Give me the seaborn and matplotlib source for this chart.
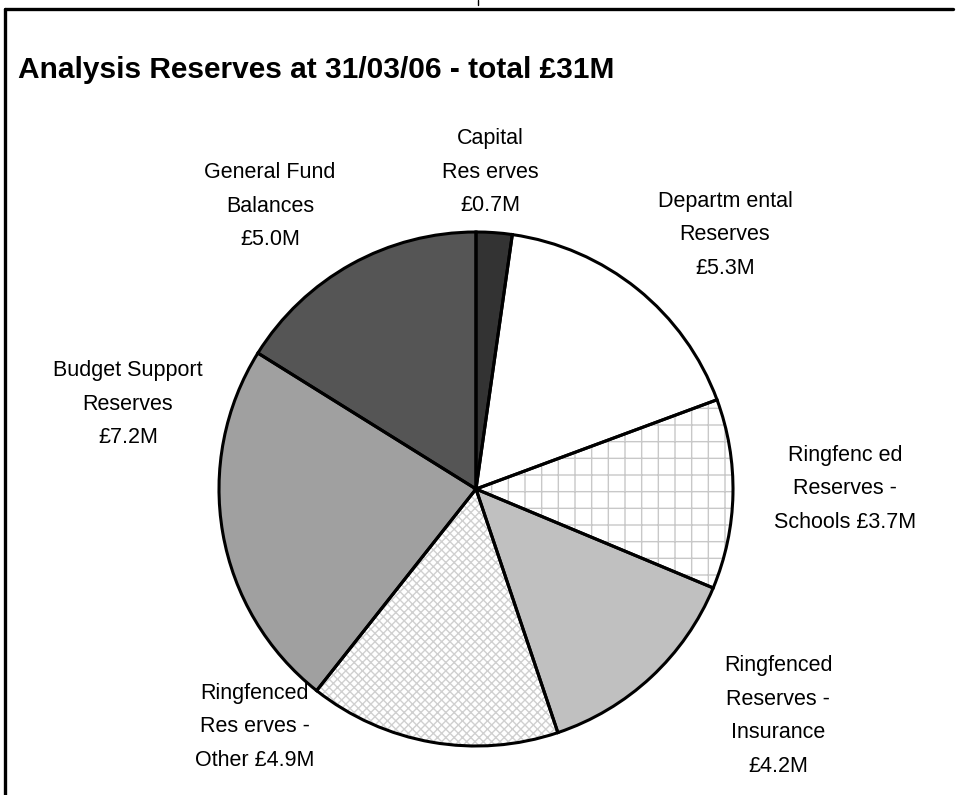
import matplotlib
matplotlib.use("Agg")
import matplotlib.pyplot as plt
import seaborn as sns
from matplotlib.lines import Line2D

# ---- data ----
categories = ["Capital Reserves", "Departmental Reserves", "Ringfenced Reserves - Schools",
              "Ringfenced Reserves - Insurance", "Ringfenced Reserves - Other",
              "Budget Support Reserves", "General Fund Balances"]
values = [0.7, 5.3, 3.7, 4.2, 4.9, 7.2, 5.0]
label_texts = ["Capital\nRes erves\n£0.7M",
               "Departm ental\nReserves\n£5.3M",
               "Ringfenc ed\nReserves -\nSchools £3.7M",
               "Ringfenced\nReserves -\nInsurance\n£4.2M",
               "Ringfenced\nRes erves -\nOther £4.9M",
               "Budget Support\nReserves\n£7.2M",
               "General Fund\nBalances\n£5.0M"]
title = "Analysis Reserves at 31/03/06 - total £31M"

# ---- style ----
face_colors = ["#333333", "#ffffff", "#ffffff", "#c0c0c0", "#ffffff", "#a0a0a0", "#555555"]
hatches = [None, None, "+", None, "xxxx", None, None]
hatch_colors = [None, None, "#c8c8c8", None, "#d0d0d0", None, None]
# label centres in pixels (x, y from top)
label_pos = [(490, 172), (725, 235), (845, 489), (778, 716), (255, 727), (128, 404), (270, 206)]

sns.set_theme(style="white")
plt.rcParams["font.family"] = ["Liberation Sans", "DejaVu Sans"]

W, H = 957, 795
fig = plt.figure(figsize=(W / 100, H / 100), dpi=100)
ax = fig.add_axes([0, 0, 1, 1])

cx, cy, r = 476, H - 489, 257

# fill layer
wedges, _ = ax.pie(values, startangle=90, counterclock=False, center=(cx, cy), radius=r,
                   colors=face_colors, wedgeprops=dict(linewidth=0), frame=True)
for w, h, hc in zip(wedges, hatches, hatch_colors):
    if h:
        w.set_hatch(h)
        w.set_edgecolor(hc)
        w.set_linewidth(0)
# outline layer
ax.pie(values, startangle=90, counterclock=False, center=(cx, cy), radius=r,
       colors=["none"] * len(values),
       wedgeprops=dict(linewidth=2.2, edgecolor="black", fill=False), frame=True)
ax.set_xlim(0, W)
ax.set_ylim(0, H)
ax.set_aspect("auto")
ax.axis("off")

for txt, (x, y) in zip(label_texts, label_pos):
    ax.text(x, H - y, txt, ha="center", va="center", fontsize=15.5,
            linespacing=1.78, color="black")

ax.text(18, H - 70, title, ha="left", va="center", fontsize=21.5, fontweight="bold",
        color="black")

# frame
fig.add_artist(Line2D([5 / W, 953 / W], [1 - 9 / H, 1 - 9 / H], transform=fig.transFigure,
                      color="black", linewidth=2.4))
fig.add_artist(Line2D([5 / W, 5 / W], [1 - 9 / H, 0], transform=fig.transFigure,
                      color="black", linewidth=2.4))
fig.add_artist(Line2D([478 / W, 478 / W], [1, 1 - 5 / H], transform=fig.transFigure,
                      color="black", linewidth=1))

fig.savefig("out.png", dpi=100, facecolor="white")
